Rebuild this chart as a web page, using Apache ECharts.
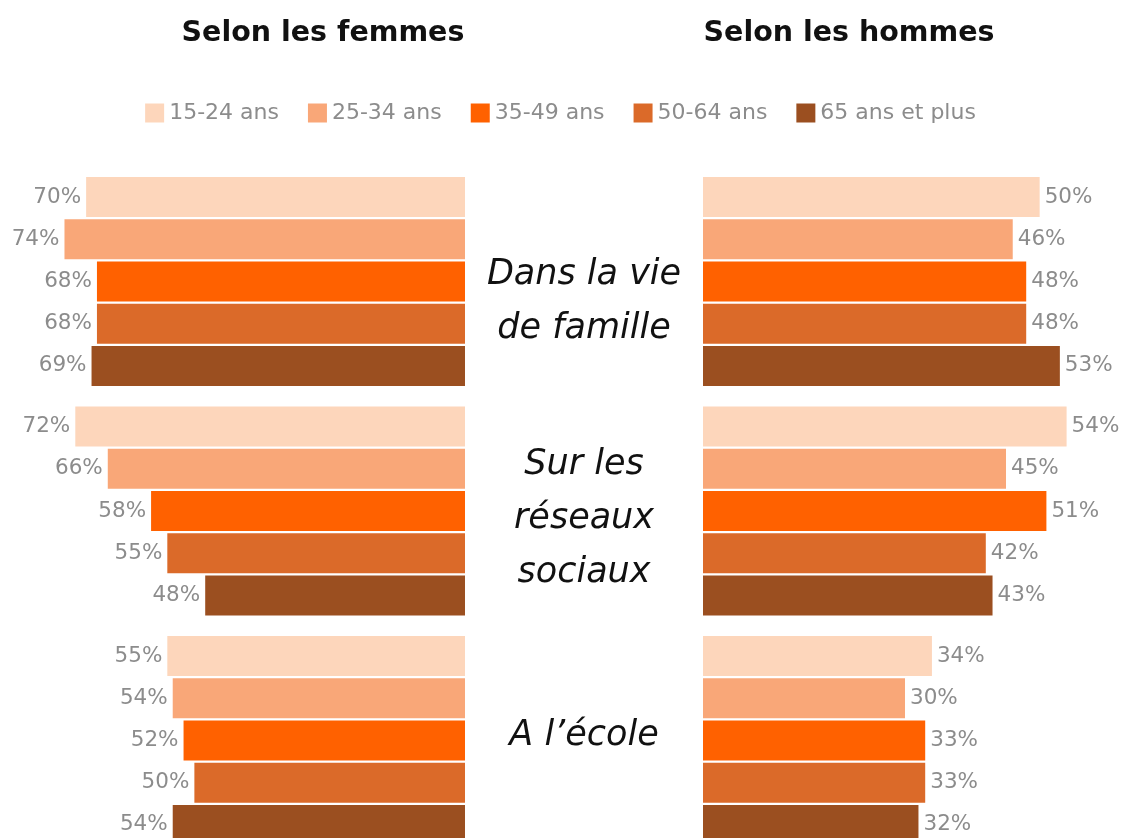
<!DOCTYPE html>
<html>
<head>
<meta charset="utf-8">
<script src="https://cdn.jsdelivr.net/npm/echarts@6/dist/echarts.min.js"></script>
<style>
  html, body { margin: 0; padding: 0; background: #fff; }
  #chart { width: 1121px; height: 838px; }
</style>
</head>
<body>
<div id="chart"></div>
<script>
// catégories (lieux)
const lieux = ['Dans la vie\nde famille', 'Sur les\nréseaux\nsociaux', 'A l’école']
const tranches = ['15-24 ans', '25-34 ans', '35-49 ans', '50-64 ans', '65 ans et plus']
const couleurs = ['#fdd6bb', '#f9a778', '#ff6100', '#db6a29', '#9b4f20']

// valeurs par tranche d'âge (famille, réseaux, école)
const femmes15_24 = [70, 72, 55]
const femmes25_34 = [74, 66, 54]
const femmes35_49 = [68, 58, 52]
const femmes50_64 = [68, 55, 50]
const femmes65 = [69, 48, 54]

const hommes15_24 = [50, 54, 34]
const hommes25_34 = [46, 45, 30]
const hommes35_49 = [48, 51, 33]
const hommes50_64 = [48, 42, 33]
const hommes65 = [53, 43, 32]

const femmes = [femmes15_24, femmes25_34, femmes35_49, femmes50_64, femmes65]
const hommes = [hommes15_24, hommes25_34, hommes35_49, hommes50_64, hommes65]

const font = 'DejaVu Sans'
const gridTop = 166.75
const gridHeight = 688.5

// décalage vertical des libellés centraux par rapport au centre de la catégorie
const lieuxDecalage = [20.5, 8, -5]

const chart = echarts.init(document.getElementById('chart'))

const series = []
femmes.forEach((data, i) => {
  series.push({
    type: 'bar',
    name: tranches[i],
    xAxisIndex: 0,
    yAxisIndex: 0,
    data: data,
    barWidth: 40,
    barGap: '5.5%',
    itemStyle: { color: couleurs[i] },
    label: {
      show: true,
      position: 'left',
      distance: 5,
      formatter: '{c}%',
      color: '#8c8c8c',
      fontSize: 21.5,
      fontFamily: font,
    },
  })
})
hommes.forEach((data, i) => {
  series.push({
    type: 'bar',
    name: tranches[i],
    xAxisIndex: 1,
    yAxisIndex: 1,
    data: data,
    barWidth: 40,
    barGap: '5.5%',
    itemStyle: { color: couleurs[i] },
    label: {
      show: true,
      position: 'right',
      distance: 5,
      formatter: '{c}%',
      color: '#8c8c8c',
      fontSize: 21.5,
      fontFamily: font,
    },
  })
})

const titre = (text, x) => ({
  type: 'text',
  x: x,
  y: 34,
  style: {
    text: text,
    font: 'bold 28.5px "' + font + '"',
    fill: '#111',
    align: 'center',
    verticalAlign: 'middle',
  },
})

const option = {
  animation: false,
  backgroundColor: '#fff',
  graphic: [titre('Selon les femmes', 323), titre('Selon les hommes', 849)],
  legend: {
    data: tranches,
    top: 97,
    left: 'center',
    icon: 'rect',
    itemWidth: 19,
    itemHeight: 19,
    itemGap: 29,
    textStyle: { color: '#8c8c8c', fontSize: 22, fontFamily: font },
  },
  grid: [
    { left: 32, width: 433, top: gridTop, height: gridHeight, outerBoundsMode: 'none' },
    { left: 703, width: 404, top: gridTop, height: gridHeight, outerBoundsMode: 'none' },
  ],
  xAxis: [
    { type: 'value', gridIndex: 0, min: 0, max: 80, inverse: true, show: false },
    { type: 'value', gridIndex: 1, min: 0, max: 60, show: false },
  ],
  yAxis: [
    {
      type: 'category',
      gridIndex: 0,
      data: lieux,
      inverse: true,
      show: false,
    },
    {
      type: 'category',
      gridIndex: 1,
      data: lieux,
      inverse: true,
      show: false,
    },
  ],
  series: series,
}

chart.setOption(option)

// libellés centraux placés sur le centre de chaque catégorie
const libelles = lieux.map((l, i) => ({
  type: 'text',
  x: 584,
  y: chart.convertToPixel({ yAxisIndex: 1 }, l) + lieuxDecalage[i],
  style: {
    text: l,
    font: 'italic 35px "' + font + '"',
    lineHeight: 54,
    fill: '#111',
    align: 'center',
    verticalAlign: 'middle',
  },
}))
chart.setOption({ graphic: [titre('Selon les femmes', 323), titre('Selon les hommes', 849)].concat(libelles) })
</script>
</body>
</html>
